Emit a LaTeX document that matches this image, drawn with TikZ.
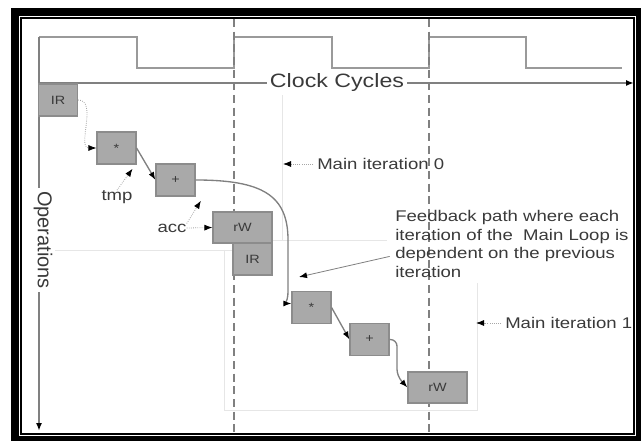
\documentclass[tikz,border=0pt]{standalone}
\usepackage{fontspec}
\setmainfont{Liberation Sans}
\newfontfamily\widefont{Liberation Sans}[FakeStretch=1.2]
\usetikzlibrary{arrows.meta}
\definecolor{boxfill}{HTML}{A9A9A9}
\definecolor{boxedge}{HTML}{8C8C8C}
\definecolor{wire}{HTML}{808080}
\definecolor{clockline}{HTML}{9A9A9A}
\definecolor{ink}{HTML}{3A3A3A}
\definecolor{faint}{HTML}{E6E6E6}
\tikzset{
  opbox/.style={draw=boxedge, fill=boxfill, line width=1.1pt, inner sep=0pt, text=ink,
    minimum width=29pt, minimum height=24pt, font=\widefont\fontsize{9}{9}\selectfont},
  widebox/.style={opbox, minimum width=44pt, minimum height=23.3pt},
  lbl/.style={text=ink, inner sep=0pt, font=\widefont\fontsize{11.6}{13.9}\selectfont},
  tip/.style={-{Latex[length=6pt,width=4.5pt,color=black]}},
  wirearrow/.style={draw=wire, line width=1pt, tip},
  hint/.style={draw=wire!70, line width=0.6pt, densely dotted, tip},
  faintline/.style={draw=faint, line width=0.7pt},
}
\begin{document}
\begin{tikzpicture}[x=0.75pt, y=-0.75pt]
  \useasboundingbox (0,0) rectangle (641,441);
  \fill[white] (0,0) rectangle (641,441);

  % frame
  \fill[black] (11,8) rectangle (641,441);
  \fill[white] (19,16) rectangle (636,436);
  \draw[black, line width=0.9pt] (21,18) rectangle (634,434);

  % iteration regions
  \draw[faintline] (282,90) -- (282,240);
  \draw[faintline] (40,250) -- (240,250);
  \draw[faintline] (272,240) -- (387,240);
  \draw[faintline] (224,250) -- (224,410) -- (477,410) -- (477,283);

  % clock
  \draw[clockline, line width=1.2pt] (39,37) -- (137,37) -- (137,68) -- (234,68) -- (234,37)
    -- (332,37) -- (332,68) -- (429,68) -- (429,37) -- (526,37) -- (526,68) -- (622,68);
  \draw[wire, line width=1pt, dash pattern=on 6pt off 3.5pt] (234,19) -- (234,433);
  \draw[wire, line width=1pt, dash pattern=on 6pt off 3.5pt] (429,19) -- (429,433);

  % axes
  \draw[wire, line width=1.2pt, tip] (39,37) -- (39,431);
  \draw[wire, line width=1.2pt, tip] (39,83) -- (634,83);
  \node[fill=white, text=ink, inner sep=2pt, font=\widefont\fontsize{14.5}{14.5}\selectfont] (clk) at (337,83) {Clock Cycles};
  \node[fill=white, text=ink, inner sep=2pt, rotate=-90, font=\fontsize{15}{15}\selectfont] (ops) at (43,240) {Operations};

  % main iteration 0
  \node[opbox] (ir1) at (58,100) {IR};
  \node[opbox] (mul1) at (116.5,148) {*};
  \node[opbox] (add1) at (175.5,180) {+};
  \node[widebox] (rw1) at (242.5,227.5) {rW};
  \node[lbl] (tmp) at (117,197) {tmp};
  \node[lbl] (acc) at (172,228) {acc};

  % main iteration 1
  \node[opbox] (ir2) at (252.5,259) {IR};
  \node[opbox] (mul2) at (311.5,307.5) {*};
  \node[opbox] (add2) at (369.5,339.5) {+};
  \node[widebox] (rw2) at (437.5,387.5) {rW};

  % notes
  \node[lbl, anchor=west] (mi0) at (317,164) {Main iteration 0};
  \node[lbl, anchor=west] (mi1) at (505,323) {Main iteration 1};
  \node[lbl, anchor=north west, align=left] (fb) at (395,210)
    {Feedback path where each\\iteration of the\ \ Main Loop is\\dependent on the previous\\iteration};
  \coordinate (it0) at (283,164);
  \coordinate (it1) at (476,323);
  \coordinate (fbtip) at (299,277);

  % data flow
  \draw[hint] (ir1.east) to[out=0,in=180] (mul1.west);
  \draw[wirearrow] (mul1.east) -- (add1.west);
  \draw[hint] (tmp.north) -- ([xshift=-3pt,yshift=-3pt]mul1.south east);
  \draw[hint] (acc.north east) -- ([xshift=4pt,yshift=-3pt]add1.south east);
  \draw[hint] (acc.east) -- (rw1.west);
  \draw[wirearrow] (add1.east) .. controls (262,180) and (288,195) .. (288,240)
    -- (288,292) to[out=-90,in=180] ([yshift=3pt]mul2.west);
  \draw[wirearrow] (mul2.east) -- (add2.west);
  \draw[wirearrow, rounded corners=5pt] (add2.east) -| (397,376) -- (rw2.west);

  % pointers
  \draw[hint, shorten <=3pt] (mi0.west) -- (it0);
  \draw[hint, shorten <=3pt] (mi1.west) -- (it1);
  \draw[draw=wire, line width=0.6pt, tip] ([xshift=-4pt,yshift=-9.5pt]fb.west) -- (fbtip);
\end{tikzpicture}
\end{document}
